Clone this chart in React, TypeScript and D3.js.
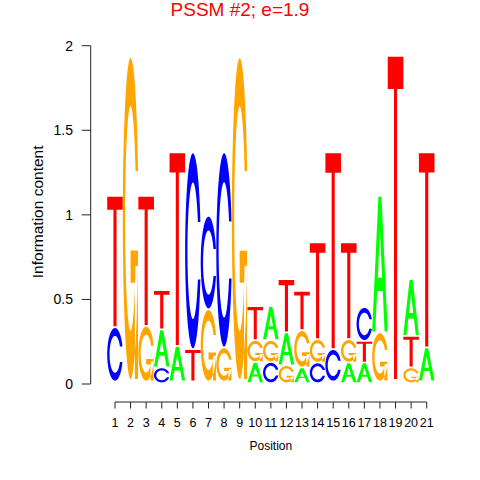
import React from "react";
import * as d3 from "d3";

// Drawn letter heights (bits) per position 1..21
const positions = d3.range(1, 22);
const heightA = [0, 0, 0, 0.215, 0.2, 0, 0, 0, 0, 0.115, 0.19, 0.184, 0.083, 0, 0, 0.112, 0.112, 0.797, 0, 0.325, 0.191];
const heightC = [0.311, 0, 0, 0.083, 0, 1.153, 0.542, 1.143, 0, 0, 0.115, 0, 0, 0.112, 0.181, 0, 0.19, 0, 0, 0, 0];
const heightG = [0, 1.897, 0.319, 0, 0, 0, 0.417, 0.191, 1.895, 0.12, 0.12, 0.096, 0.21, 0.128, 0, 0.128, 0, 0.28, 0, 0.083, 0];
const heightT = [0.766, 0, 0.758, 0.222, 1.134, 0.181, 0, 0, 0, 0.19, 0, 0.305, 0.223, 0.562, 1.153, 0.562, 0.118, 0, 1.905, 0.177, 1.143];
const letters = ["A", "C", "G", "T"];
const yTicks = [0, 0.5, 1, 1.5, 2];
const yTickLabels = ["0", "0.5", "1", "1.5", "2"];
const title = "PSSM #2; e=1.9";

const colors: Record<string, string> = { A: "#00FF00", C: "#0000FF", G: "#FFA500", T: "#FF0000" };
const FONT = "'Liberation Sans', Arial, Helvetica, sans-serif";

function seq(a: number, b: number, n: number) {
  return d3.range(n).map((i) => a + ((b - a) * i) / (n - 1));
}
const rev = <T,>(arr: T[]) => arr.slice().reverse();

// seqLogo-style letter polygons in unit box (y up)
function cShape(): [number, number][] {
  const a1 = seq(0.3 + Math.PI / 2, Math.PI, 100);
  const a2 = seq(Math.PI, 1.5 * Math.PI, 100);
  const xl1 = a1.map((a) => 0.5 + 0.5 * Math.sin(a));
  const yl1 = a1.map((a) => 0.5 + 0.5 * Math.cos(a));
  const xl2 = a2.map((a) => 0.5 + 0.5 * Math.sin(a));
  const yl2 = a2.map((a) => 0.5 + 0.5 * Math.cos(a));
  const xl = [...xl1, ...xl2];
  const yl = [...yl1, ...yl2];
  const x = [...xl, ...rev(xl)];
  const y = [...yl, ...rev(yl).map((v) => 1 - v)];
  const maxY = d3.max(yl1) as number;
  let xi1 = a1.map((a) => 0.5 + 0.35 * Math.sin(a));
  let yi1 = a1.map((a) => 0.5 + 0.35 * Math.cos(a));
  const keep = yi1.map((v) => v <= maxY);
  xi1 = xi1.filter((_, i) => keep[i]);
  yi1 = yi1.filter((_, i) => keep[i]);
  yi1[0] = maxY;
  const xi2 = a2.map((a) => 0.5 + 0.35 * Math.sin(a));
  const yi2 = a2.map((a) => 0.5 + 0.35 * Math.cos(a));
  const xi = [...xi1, ...xi2];
  const yi = [...yi1, ...yi2];
  const x1 = [...xi, ...rev(xi)];
  const y1 = [...yi, ...rev(yi).map((v) => 1 - v)];
  const X = [...x, ...rev(x1)];
  const Y = [...y, ...rev(y1)];
  return X.map((v, i) => [v, Y[i]]);
}

function shapes(letter: string): [number, number][][] {
  if (letter === "A") {
    const ox = [0, 4, 6, 10, 8, 6.8, 3.2, 2, 0];
    const oy = [0, 10, 10, 0, 0, 3, 3, 0, 0];
    const ix = [3.6, 5, 6.4, 3.6];
    const iy = [4, 7.5, 4, 4];
    return [ox.map((v, i) => [v / 10, oy[i] / 10]), ix.map((v, i) => [v / 10, iy[i] / 10])];
  }
  if (letter === "T") {
    const x = [0, 10, 10, 6, 6, 4, 4, 0];
    const y = [10, 10, 9, 9, 0, 0, 9, 9];
    return [x.map((v, i) => [v / 10, y[i] / 10])];
  }
  if (letter === "C") return [cShape()];
  // G
  const base = rev(cShape());
  const a1 = seq(0.3 + Math.PI / 2, Math.PI, 100);
  const r1 = d3.max(a1.map((a) => 0.5 + 0.5 * Math.sin(a))) as number;
  const h1 = 0.4;
  const xa = [r1, 0.5, 0.5, r1 - 0.2, r1 - 0.2, r1, r1];
  const ya = [h1, h1, h1 - 0.1, h1 - 0.1, 0, 0, h1];
  return [base, xa.map((v, i) => [v, ya[i]])];
}

const heights: Record<string, number[]> = { A: heightA, C: heightC, G: heightG, T: heightT };

export default function App() {
  const xScale = d3.scaleLinear().domain([0.5, 21.5]).range([107.2, 434.5]);
  const yScale = d3.scaleLinear().domain([0, 2]).range([384, 45.7]);
  const wt = xScale(1) - xScale(0);

  const marks: { d: string; fill: string; key: string }[] = [];
  positions.forEach((p, j) => {
    const col = letters.map((l, k) => ({ l, h: heights[l][j], k }));
    const ordered = col.slice().sort((a, b) => a.h - b.h || a.k - b.k);
    let ypos = 0;
    ordered.forEach(({ l, h }) => {
      if (h > 0) {
        const x0 = xScale(p - 0.5);
        const polys = shapes(l);
        const d = polys
          .map(
            (poly) =>
              "M" +
              poly
                .map(([ux, uy]) => `${(x0 + ux * wt).toFixed(2)},${yScale(ypos + h * uy).toFixed(2)}`)
                .join("L") +
              "Z"
          )
          .join("");
        marks.push({ d, fill: colors[l], key: `${p}-${l}` });
      }
      ypos += h + 0.01;
    });
  });

  const axisX = 90.7;
  const xAxisY = 402;

  return (
    <svg width={480} height={480} style={{ position: "absolute", left: 0, top: 0, background: "#fff" }}>
      <rect x={0} y={0} width={480} height={480} fill="#fff" />
      <text x={240} y={16} textAnchor="middle" fill="#FF0000" fontFamily={FONT} fontSize={19}>
        {title}
      </text>
      {marks.map((m) => (
        <path key={m.key} d={m.d} fill={m.fill} fillRule="evenodd" />
      ))}
      {/* y axis */}
      <line x1={axisX} x2={axisX} y1={yScale(0)} y2={yScale(2)} stroke="#222" strokeWidth={1} />
      {yTicks.map((t, i) => (
        <g key={t}>
          <line x1={axisX - 9} x2={axisX} y1={yScale(t)} y2={yScale(t)} stroke="#222" strokeWidth={1} />
          <text x={73} y={yScale(t) + 5} textAnchor="end" fontFamily={FONT} fontSize={14} fill="#000">
            {yTickLabels[i]}
          </text>
        </g>
      ))}
      <text
        transform={`translate(43, ${(yScale(0) + yScale(2)) / 2 - 3}) rotate(-90)`}
        textAnchor="middle"
        fontFamily={FONT}
        fontSize={15.5}
        fill="#000"
      >
        Information content
      </text>
      {/* x axis */}
      <line x1={xScale(1)} x2={xScale(21)} y1={xAxisY} y2={xAxisY} stroke="#222" strokeWidth={1} />
      {positions.map((p) => (
        <g key={p}>
          <line x1={xScale(p)} x2={xScale(p)} y1={xAxisY} y2={xAxisY + 6.5} stroke="#222" strokeWidth={1} />
          <text x={xScale(p)} y={427} textAnchor="middle" fontFamily={FONT} fontSize={12.5} fill="#000">
            {p}
          </text>
        </g>
      ))}
      <text x={(xScale(1) + xScale(21)) / 2} y={449.5} textAnchor="middle" fontFamily={FONT} fontSize={12} fill="#000">
        Position
      </text>
    </svg>
  );
}
